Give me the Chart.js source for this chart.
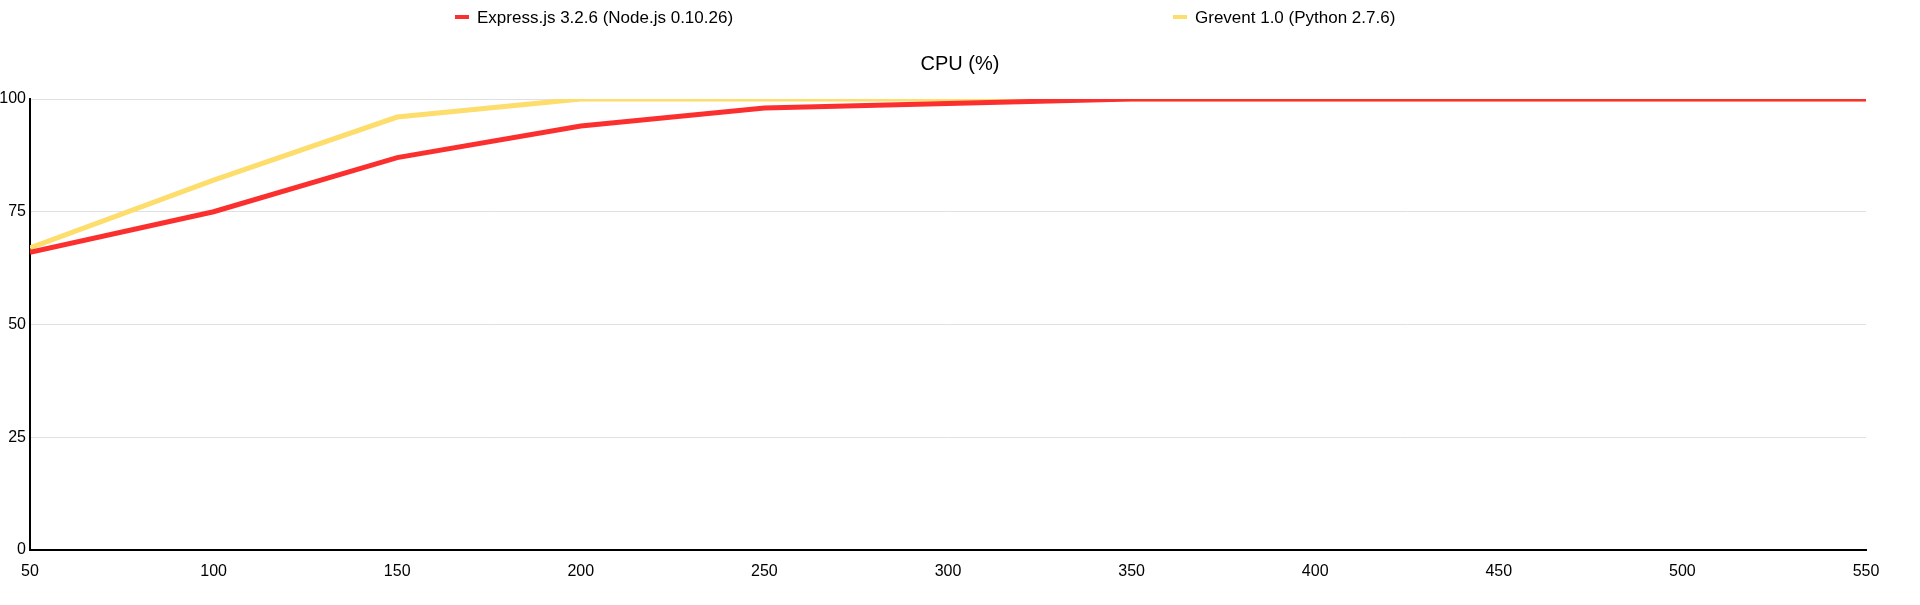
<!DOCTYPE html>
<html><head><meta charset="utf-8">
<script src="https://cdn.jsdelivr.net/npm/chart.js@4"></script>
<style>
body{margin:0;background:#fff;font-family:"Liberation Sans",Arial,sans-serif;}
#wrap{position:relative;width:1920px;height:605px;}
.lg{position:absolute;top:8px;font-size:17px;color:#000;}
.lg span{display:inline-block;width:14px;height:4px;vertical-align:middle;margin-right:8px;margin-top:-3px;}
#title{position:absolute;top:52px;left:0;width:1920px;text-align:center;font-size:20px;}
</style></head><body>
<div id="wrap">
<canvas id="c" width="1920" height="605"></canvas>
<div class="lg" style="left:455px"><span style="background:#fc2f2f"></span>Express.js 3.2.6 (Node.js 0.10.26)</div>
<div class="lg" style="left:1173px"><span style="background:#fddd6c"></span>Grevent 1.0 (Python 2.7.6)</div>
<div id="title">CPU (%)</div>
</div>
<script>
const xValues=[50,100,150,200,250,300,350,400,450,500,550];
const express=[66,75,87,94,98,99,100,100,100,100,100];
const gevent=[67,82,96,100,100,100,100,100,100,100,100];
const toPts=a=>a.map((v,i)=>({x:xValues[i],y:v}));
new Chart(document.getElementById('c'),{
type:'line',
data:{datasets:[
{label:'Grevent 1.0 (Python 2.7.6)',data:toPts(gevent),borderColor:'#fddd6c',borderWidth:5,pointRadius:0,tension:0,order:2},
{label:'Express.js 3.2.6 (Node.js 0.10.26)',data:toPts(express),borderColor:'#fc2f2f',borderWidth:5,pointRadius:0,tension:0,order:1}
]},
options:{responsive:false,animation:false,
layout:{padding:{top:99,right:54,left:0,bottom:0}},
plugins:{legend:{display:false},title:{display:false},tooltip:{enabled:false}},
scales:{
x:{type:'linear',min:50,max:550,ticks:{stepSize:50,color:'#000',font:{size:16,family:'Liberation Sans'},padding:4},
grid:{display:false},border:{color:'#000',width:2},
afterFit:s=>{s.height=55;}},
y:{min:0,max:100,ticks:{stepSize:25,color:'#000',font:{size:16,family:'Liberation Sans'},padding:4},
grid:{color:'#e0e0e0',drawTicks:false},border:{color:'#000',width:2},
afterFit:s=>{s.width=30;}}
}}
});
</script>
</body></html>
